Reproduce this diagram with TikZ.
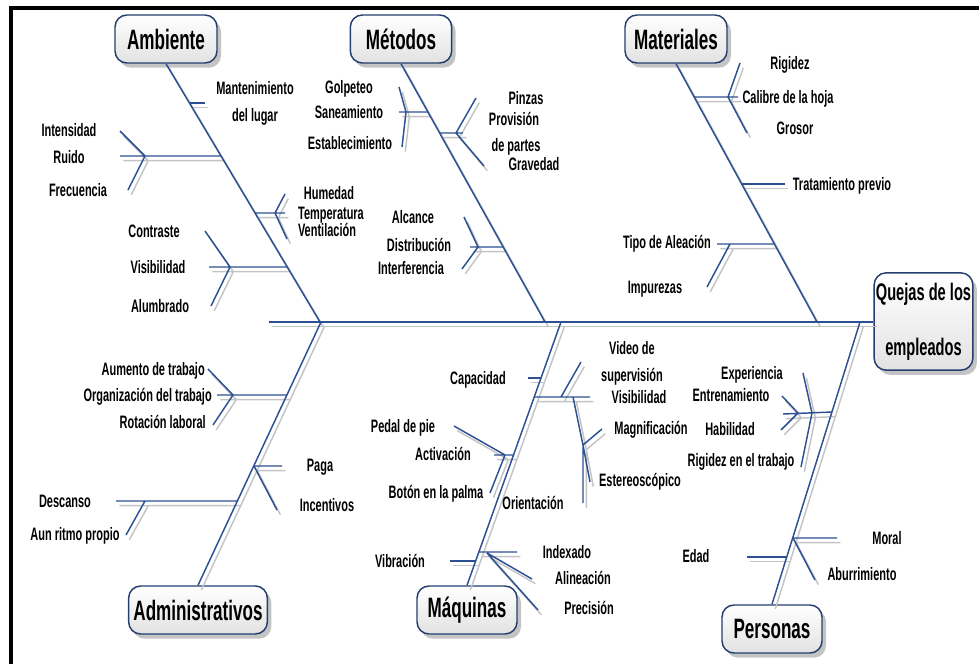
\documentclass[tikz,border=0pt]{standalone}
\usepackage{fontspec}
\newfontfamily\lblfont[FakeStretch=0.61]{Liberation Sans}
\definecolor{boneblue}{RGB}{44,80,146}
\definecolor{boxblue}{RGB}{36,62,112}
\definecolor{shadegrey}{RGB}{196,196,196}
\definecolor{boxgrey}{RGB}{226,226,226}
\usepackage{tikz}
\usetikzlibrary{positioning,calc,shadows}

\tikzset{
  bone/.style={draw=boneblue,line width=1.1pt},
  catbox/.style={draw=boxblue,line width=1.1pt,rounded corners=9pt,
    top color=white,bottom color=boxgrey,minimum height=36pt,
    font=\lblfont\bfseries\fontsize{21}{25}\selectfont,
    drop shadow={shadow xshift=3pt,shadow yshift=-3.5pt,fill=shadegrey,opacity=1}},
  cause/.style={font=\lblfont\bfseries\fontsize{13.5}{20}\selectfont,
    inner sep=0pt,text height=10pt,text depth=1pt}
}

% all bones, drawn once as shadow and once in blue
\newcommand{\fishbones}{%
  % spine and main bones
  \draw[bone] (head) -- (head -| quejas.west);
  \draw[bone] (ambiente.south) -- (jamb);
  \draw[bone] (metodos.south) -- (jmet);
  \draw[bone] (materiales.south) -- (jmat);
  \draw[bone] (administrativos.north) -- (jadm);
  \draw[bone] (maquinas.north) -- (jmaq);
  \draw[bone] (personas.north) -- (jper);
  % Ambiente
  \draw[bone] (a1) -- (a1e);
  \draw[bone] (a2) -- (a2e) (a2f) -- (a2u) (a2f) -- (a2d);
  \draw[bone] (a3) -- (a3e) (a3f) -- (a3u) (a3f) -- (a3d);
  \draw[bone] (a4) -- (a4e) (a4f) -- (a4u) (a4f) -- (a4d);
  % Metodos
  \draw[bone] (m1) -- (m1e) (m1f) -- (m1u) (m1f) -- (m1d);
  \draw[bone] (m2) -- (m2e) (m2f) -- (m2u) (m2f) -- (m2d);
  \draw[bone] (m3) -- (m3e) (m3f) -- (m3u) (m3f) -- (m3d);
  % Materiales
  \draw[bone] (t1) -- (t1e) (t1f) -- (t1u) (t1f) -- (t1d);
  \draw[bone] (t2) -- (t2e);
  \draw[bone] (t3) -- (t3e) (t3f) -- (t3d);
  % Administrativos
  \draw[bone] (d1) -- (d1e) (d1f) -- (d1u) (d1f) -- (d1d);
  \draw[bone] (d2) -- (d2e) (d2) -- (d2d);
  \draw[bone] (d3) -- (d3e) (d3f) -- (d3d);
  % Maquinas
  \draw[bone] (q1) -- (q1e);
  \draw[bone] (q2) -- (q2e) (q2f) -- (q2u) (q2g) -- (q2s)
    (q2s) -- (q2m) (q2s) -- (q2x) (q2s) -- (q2o);
  \draw[bone] (q3) -- (q3e) (q3u) -- (q3f) (q3f) -- (q3d);
  \draw[bone] (q4) -- (q4e);
  \draw[bone] (q5) -- (q5e) (q5f) -- (q5a) (q5f) -- (q5p);
  % Personas
  \draw[bone] (p1) -- (p1e) (p1f) -- (p1u) (p1f) -- (p1d)
    (p1x) -- (p1y) (p1y) -- (p1z);
  \draw[bone] (p2) -- (p2e) (p2) -- (p2d);
  \draw[bone] (p3) -- (p3e);
}

\begin{document}
\begin{tikzpicture}[x=0.75pt,y=-0.75pt]
  \useasboundingbox (0,0) rectangle (979,664);
  \draw[line width=3pt] (979,8) -- (11,8) -- (11,664);

  % category boxes
  \node[catbox,minimum width=76.5pt] (ambiente) at (166,39) {Ambiente};
  \node[catbox,minimum width=76pt] (metodos) at (401,39) {Métodos};
  \node[catbox,minimum width=76.5pt] (materiales) at (676,39) {Materiales};
  \node[catbox,minimum width=104pt] (administrativos) at (198,610) {Administrativos};
  \node[catbox,minimum width=75pt] (maquinas) at (467,610) {Máquinas};
  \node[catbox,minimum width=75pt] (personas) at (772,629) {Personas};
  \node[catbox,minimum width=74pt,minimum height=73pt,inner sep=1pt,align=center,
    font=\lblfont\bfseries\fontsize{18}{22}\selectfont]
    (quejas) at (923.5,321.5) {Quejas de los\\[19pt]empleados};

  % spine points
  \coordinate (head) at (269,322);
  \coordinate (jamb) at (320,322);
  \coordinate (jmet) at (545,322);
  \coordinate (jmat) at (817,322);
  \coordinate (jadm) at (321,322);
  \coordinate (jmaq) at (561,322);
  \coordinate (jper) at (860,322);

  % Ambiente points
  \coordinate (a1) at (190,103); \coordinate (a1e) at (205,103);
  \coordinate (a2) at (221,156); \coordinate (a2e) at (120,156);
  \coordinate (a2f) at (145,156); \coordinate (a2u) at (120,131);
  \coordinate (a2d) at (128,190);
  \coordinate (a3) at (255,213); \coordinate (a3e) at (285,213);
  \coordinate (a3f) at (275,213); \coordinate (a3u) at (285,194);
  \coordinate (a3d) at (287,239);
  \coordinate (a4) at (287,267); \coordinate (a4e) at (209,267);
  \coordinate (a4f) at (230,267); \coordinate (a4u) at (205,231);
  \coordinate (a4d) at (211,306);
  % Metodos points
  \coordinate (m1) at (428,112); \coordinate (m1e) at (399,112);
  \coordinate (m1f) at (406,112); \coordinate (m1u) at (399,87);
  \coordinate (m1d) at (402,147);
  \coordinate (m2) at (440,133); \coordinate (m2e) at (463,133);
  \coordinate (m2f) at (456,133); \coordinate (m2u) at (476,98);
  \coordinate (m2d) at (484,166);
  \coordinate (m3) at (503,247); \coordinate (m3e) at (470,247);
  \coordinate (m3f) at (478,247); \coordinate (m3u) at (464,217);
  \coordinate (m3d) at (462,269);
  % Materiales points
  \coordinate (t1) at (694,97); \coordinate (t1e) at (738,97);
  \coordinate (t1f) at (728,97); \coordinate (t1u) at (740,63);
  \coordinate (t1d) at (747,133);
  \coordinate (t2) at (742,184); \coordinate (t2e) at (785,184);
  \coordinate (t3) at (774,244); \coordinate (t3e) at (717,244);
  \coordinate (t3f) at (730,244); \coordinate (t3d) at (707,287);
  % Administrativos points
  \coordinate (d1) at (287,395); \coordinate (d1e) at (217,395);
  \coordinate (d1f) at (233,395); \coordinate (d1u) at (208,369);
  \coordinate (d1d) at (213,425);
  \coordinate (d2) at (254,466); \coordinate (d2e) at (282,466);
  \coordinate (d2d) at (277,510);
  \coordinate (d3) at (238,501); \coordinate (d3e) at (116,501);
  \coordinate (d3f) at (145,501); \coordinate (d3d) at (126,535);
  % Maquinas points
  \coordinate (q1) at (541,378); \coordinate (q1e) at (528,378);
  \coordinate (q2) at (534,397); \coordinate (q2e) at (590,397);
  \coordinate (q2f) at (561,397); \coordinate (q2u) at (581,362);
  \coordinate (q2g) at (573,397); \coordinate (q2s) at (583,445);
  \coordinate (q2m) at (602,429); \coordinate (q2x) at (590,482);
  \coordinate (q2o) at (583,503);
  \coordinate (q3) at (514,455); \coordinate (q3e) at (494,455);
  \coordinate (q3u) at (454,426); \coordinate (q3f) at (505,455);
  \coordinate (q3d) at (490,493);
  \coordinate (q4) at (476,561); \coordinate (q4e) at (450,561);
  \coordinate (q5) at (479,552); \coordinate (q5e) at (517,552);
  \coordinate (q5f) at (487,553); \coordinate (q5a) at (532,579);
  \coordinate (q5p) at (538,610);
  % Personas points
  \coordinate (p1) at (832,412); \coordinate (p1e) at (783,414);
  \coordinate (p1f) at (798,413); \coordinate (p1u) at (782,396);
  \coordinate (p1d) at (781,430);
  \coordinate (p1x) at (803,373); \coordinate (p1y) at (812,413);
  \coordinate (p1z) at (801,467);
  \coordinate (p2) at (793,538); \coordinate (p2e) at (837,538);
  \coordinate (p2d) at (815,580);
  \coordinate (p3) at (787,557); \coordinate (p3e) at (747,557);

  % shadow pass, then blue pass
  \begin{scope}[bone/.style={draw=shadegrey,line width=1.1pt},
      transform canvas={xshift=2.5pt,yshift=-3.5pt}]
    \fishbones
  \end{scope}
  \fishbones

  % Ambiente causes
  \node[cause] (mant) at (255,88) {Mantenimiento};
  \node[cause] (lugar) at (255,115) {del lugar};
  \node[cause] (intens) at (69,130) {Intensidad};
  \node[cause] (ruido) at (69,157) {Ruido};
  \node[cause] (frec) at (78,190) {Frecuencia};
  \node[cause] (humedad) at (329,193) {Humedad};
  \node[cause] (temper) at (331,213) {Temperatura};
  \node[cause] (ventil) at (327,230) {Ventilación};
  \node[cause] (contraste) at (154,231) {Contraste};
  \node[cause] (visib) at (158,267) {Visibilidad};
  \node[cause] (alumb) at (160,306) {Alumbrado};
  % Metodos causes
  \node[cause] (golp) at (349,87) {Golpeteo};
  \node[cause] (sanea) at (349,112) {Saneamiento};
  \node[cause] (estab) at (350,143) {Establecimiento};
  \node[cause] (pinzas) at (526,98) {Pinzas};
  \node[cause] (provis) at (514,119) {Provisión};
  \node[cause] (partes) at (516,145) {de partes};
  \node[cause] (graved) at (534,164) {Gravedad};
  \node[cause] (alcance) at (413,217) {Alcance};
  \node[cause] (distrib) at (419,245) {Distribución};
  \node[cause] (interf) at (411,268) {Interferencia};
  % Materiales causes
  \node[cause] (rigidez) at (790,63) {Rigidez};
  \node[cause] (calibre) at (788,97) {Calibre de la hoja};
  \node[cause] (grosor) at (795,128) {Grosor};
  \node[cause] (tratam) at (842,184) {Tratamiento previo};
  \node[cause] (aleacion) at (667,242) {Tipo de Aleación};
  \node[cause] (impur) at (655,287) {Impurezas};
  % Administrativos causes
  \node[cause,anchor=east] (aumento) at (205,369) {Aumento de trabajo};
  \node[cause,anchor=east] (organiz) at (212,395) {Organización del trabajo};
  \node[cause,anchor=east] (rotacion) at (206,422) {Rotación laboral};
  \node[cause] (paga) at (320,465) {Paga};
  \node[cause] (incent) at (327,505) {Incentivos};
  \node[cause] (descanso) at (65,501) {Descanso};
  \node[cause] (ritmo) at (75,534) {Aun ritmo propio};
  % Maquinas causes
  \node[cause] (capac) at (478,378) {Capacidad};
  \node[cause] (video) at (632,348) {Video de};
  \node[cause] (superv) at (632,375) {supervisión};
  \node[cause] (visib2) at (639,397) {Visibilidad};
  \node[cause] (magnif) at (651,428) {Magnificación};
  \node[cause] (estereo) at (640,480) {Estereoscópico};
  \node[cause] (orient) at (533,503) {Orientación};
  \node[cause] (pedal) at (403,426) {Pedal de pie};
  \node[cause] (activ) at (443,454) {Activación};
  \node[cause] (boton) at (436,492) {Botón en la palma};
  \node[cause] (vibr) at (400,561) {Vibración};
  \node[cause] (index) at (567,552) {Indexado};
  \node[cause] (alin) at (583,578) {Alineación};
  \node[cause] (precis) at (589,608) {Precisión};
  % Personas causes
  \node[cause] (exper) at (752,373) {Experiencia};
  \node[cause] (entren) at (731,395) {Entrenamiento};
  \node[cause] (habil) at (730,429) {Habilidad};
  \node[cause] (rigtrab) at (741,460) {Rigidez en el trabajo};
  \node[cause] (moral) at (887,538) {Moral};
  \node[cause] (aburr) at (862,574) {Aburrimiento};
  \node[cause] (edad) at (696,556) {Edad};
\end{tikzpicture}
\end{document}
